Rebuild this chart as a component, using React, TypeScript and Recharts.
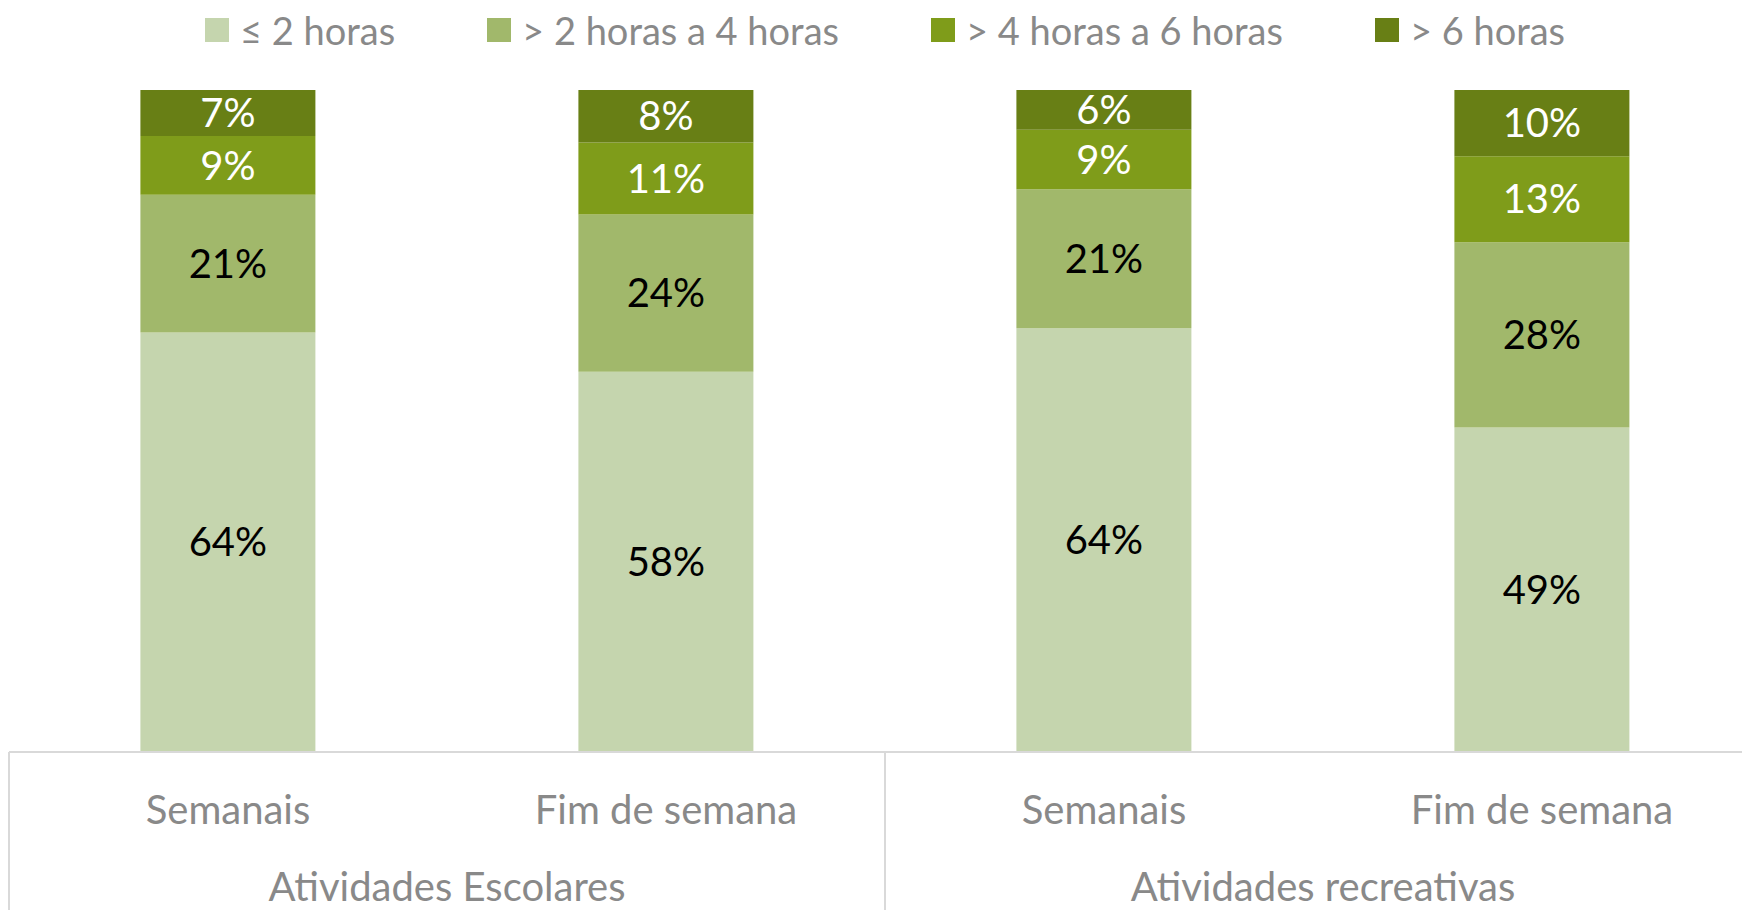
import { Bar, BarChart, LabelList, Legend, XAxis, YAxis } from "recharts";

const periods = ["Semanais", "Fim de semana", "Semanais", "Fim de semana"];
const groups = [
  "Atividades Escolares",
  "Atividades Escolares",
  "Atividades recreativas",
  "Atividades recreativas",
];

const upTo2h = [64, 58, 64, 49];
const from2to4h = [21, 24, 21, 28];
const from4to6h = [9, 11, 9, 13];
const over6h = [7, 8, 6, 10];

const seriesNames = ["≤ 2 horas", "> 2 horas a 4 horas", "> 4 horas a 6 horas", "> 6 horas"];
const COLORS = ["#c5d5ae", "#a1b86b", "#7f9c1a", "#687f15"];
const LABEL_COLORS = ["#000000", "#000000", "#ffffff", "#ffffff"];

const FONT = "Lato, 'Open Sans', sans-serif";
const GRAY = "#898989";
const LINE = "#d9d9d9";

const data = periods.map((period, i) => ({
  period,
  group: groups[i],
  s0: upTo2h[i],
  s1: from2to4h[i],
  s2: from4to6h[i],
  s3: over6h[i],
}));

function PeriodTick(props: any) {
  const { x, y, payload } = props;
  return (
    <text
      x={x}
      y={y + 57}
      textAnchor="middle"
      dominantBaseline="central"
      fill={GRAY}
      fontSize={40}
      fontFamily={FONT}
    >
      {payload.value}
    </text>
  );
}

function GroupTick(props: any) {
  const { x, y, payload, index } = props;
  const left = payload.coordinate - payload.offset;
  const right = payload.coordinate + payload.offset;
  return (
    <g>
      <line x1={left} x2={left} y1={y - 80} y2={y + 78} stroke={LINE} strokeWidth={2} />
      {index === 1 && (
        <line x1={right} x2={right} y1={y - 80} y2={y + 78} stroke={LINE} strokeWidth={2} />
      )}
      <text
        x={x}
        y={y + 54}
        textAnchor="middle"
        dominantBaseline="central"
        fill={GRAY}
        fontSize={40}
        fontFamily={FONT}
      >
        {payload.value}
      </text>
    </g>
  );
}

function LegendContent() {
  return (
    <div
      style={{
        display: "flex",
        justifyContent: "center",
        gap: 92,
        paddingTop: 9,
        fontFamily: FONT,
        fontSize: 38,
        lineHeight: "42px",
        color: GRAY,
      }}
    >
      {seriesNames.map((name, i) => (
        <div key={name} style={{ display: "flex", alignItems: "center" }}>
          <span
            style={{
              display: "inline-block",
              width: 24,
              height: 24,
              background: COLORS[i],
              marginRight: 11,
            }}
          />
          <span>{name}</span>
        </div>
      ))}
    </div>
  );
}

export default function App() {
  return (
    <div
      style={{
        position: "absolute",
        left: 0,
        top: 0,
        width: 1742,
        height: 910,
        overflow: "hidden",
        background: "#fff",
      }}
    >
      <BarChart
        width={1770}
        height={910}
        data={data}
        stackOffset="expand"
        barCategoryGap="30%"
        margin={{ top: 0, right: 9, bottom: 0, left: 9 }}
      >
        <Legend
          verticalAlign="top"
          align="center"
          content={<LegendContent />}
          wrapperStyle={{ height: 90, width: 1770, left: 0, top: 0 }}
        />
        <XAxis
          dataKey="period"
          height={80}
          tickLine={false}
          tickSize={0}
          tickMargin={0}
          axisLine={{ stroke: LINE, strokeWidth: 2 }}
          tick={<PeriodTick />}
          interval={0}
        />
        <XAxis
          xAxisId="group"
          dataKey="group"
          allowDuplicatedCategory={false}
          height={78}
          tickLine={false}
          tickSize={0}
          tickMargin={0}
          axisLine={false}
          tick={<GroupTick />}
          interval={0}
        />
        <YAxis hide domain={[0, 1]} />
        {["s0", "s1", "s2", "s3"].map((key, i) => (
          <Bar
            key={key}
            dataKey={key}
            name={seriesNames[i]}
            stackId="a"
            fill={COLORS[i]}
            isAnimationActive={false}
          >
            <LabelList
              dataKey={key}
              position="center"
              formatter={(v: unknown) => `${v}%`}
              fill={LABEL_COLORS[i]}
              fontSize={40}
              fontFamily={FONT}
            />
          </Bar>
        ))}
      </BarChart>
    </div>
  );
}
